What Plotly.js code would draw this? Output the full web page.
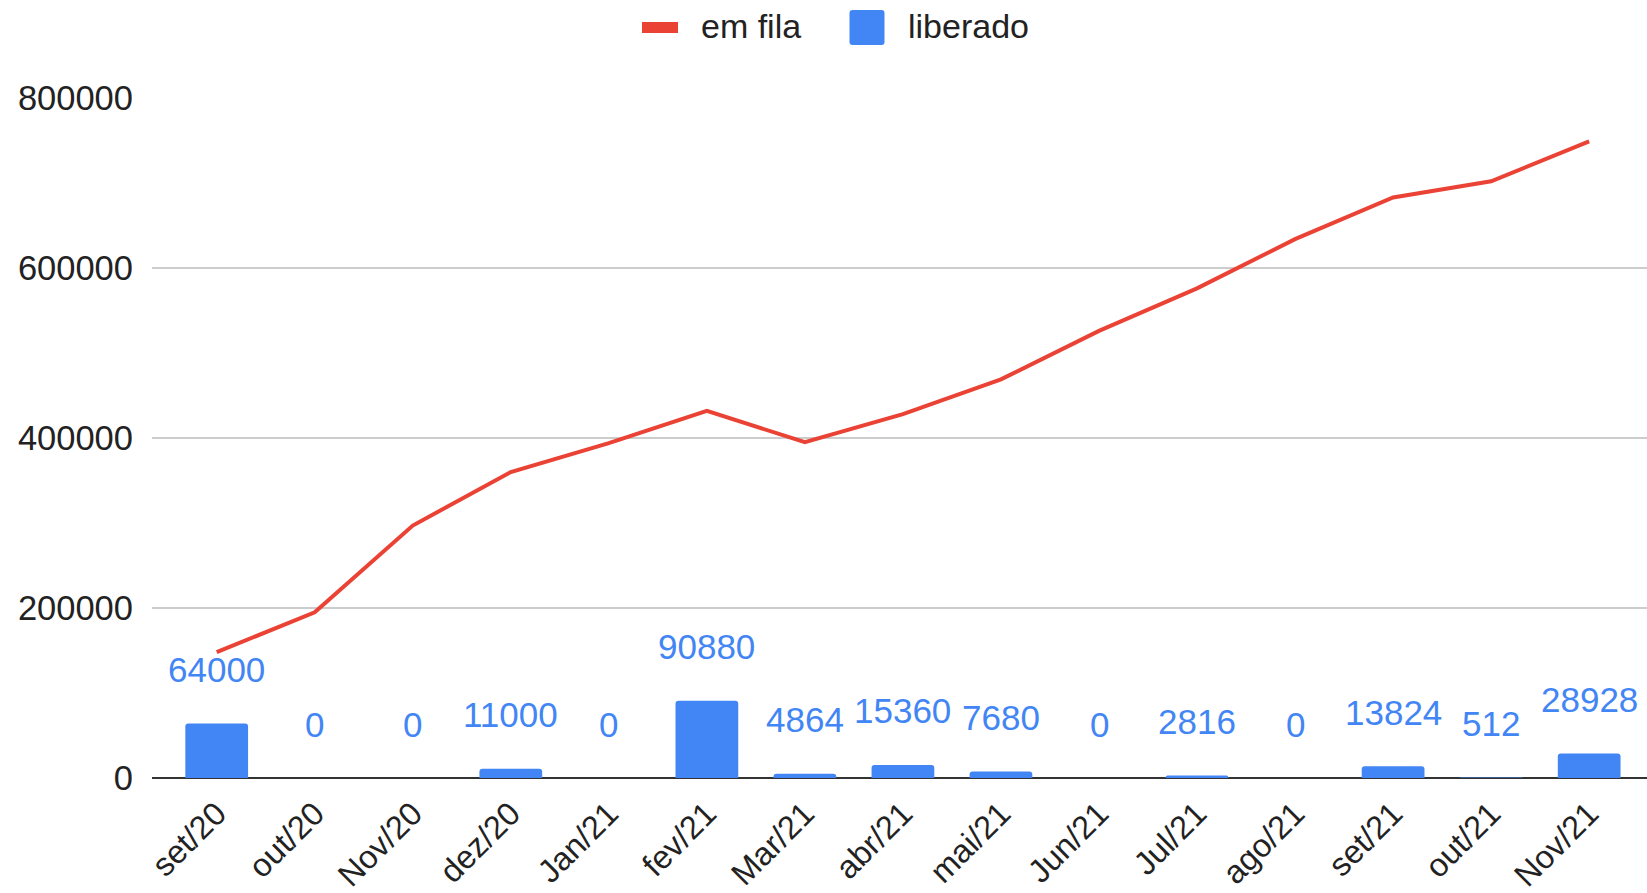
<!DOCTYPE html>
<html>
<head>
<meta charset="utf-8">
<script src="https://cdn.plot.ly/plotly-3.0.1.min.js"></script>
<style>html,body{margin:0;padding:0;background:#fff;}#chart{width:1647px;height:893px;}</style>
</head>
<body>
<div id="chart"></div>
<script>
const categories = ["set/20","out/20","Nov/20","dez/20","Jan/21","fev/21","Mar/21","abr/21","mai/21","Jun/21","Jul/21","ago/21","set/21","out/21","Nov/21"];
const emFila = [148000,195000,297000,360000,394000,432000,395000,428000,469000,526000,576000,634000,683000,702000,749000];
const liberado = [64000,0,0,11000,0,90880,4864,15360,7680,0,2816,0,13824,512,28928];
const yTicks = [0,200000,400000,600000,800000];
const seriesNames = ["em fila", "liberado"];

const FONT = '"Liberation Sans", Arial, Helvetica, sans-serif';
const BLUE = '#4285F4';
const RED = '#EA4335';

const W = 1647, H = 893;
const M = {l: 152, r: 0, t: 98, b: 115};
const pw = W - M.l - M.r, ph = H - M.t - M.b;
const px = x => (x - M.l) / pw;          // page px -> paper x
const py = y => (H - M.b - y) / ph;      // page px -> paper y

const traces = [
  {
    type: 'scatter', mode: 'lines', name: seriesNames[0],
    x: categories, y: emFila,
    line: {color: RED, width: 4}
  },
  {
    type: 'bar', name: seriesNames[1],
    x: categories, y: liberado,
    marker: {color: BLUE, cornerradius: 3}
  }
];

const annotations = categories.map((c, i) => ({
  x: c, y: liberado[i], xref: 'x', yref: 'y',
  text: String(liberado[i]), showarrow: false,
  yanchor: 'middle', yshift: 54,
  font: {family: FONT, size: 35, color: BLUE}
}));

// custom legend (text)
annotations.push(
  {xref: 'paper', yref: 'paper', x: px(699), y: py(26), xanchor: 'left', yanchor: 'middle',
   text: seriesNames[0], showarrow: false, font: {family: FONT, size: 34, color: '#222'}},
  {xref: 'paper', yref: 'paper', x: px(906), y: py(26), xanchor: 'left', yanchor: 'middle',
   text: seriesNames[1], showarrow: false, font: {family: FONT, size: 34, color: '#222'}}
);

const r = 3;
const sq = 17.5;
const roundRect = `M ${-sq+r} ${-sq} L ${sq-r} ${-sq} Q ${sq} ${-sq} ${sq} ${-sq+r} L ${sq} ${sq-r} Q ${sq} ${sq} ${sq-r} ${sq} L ${-sq+r} ${sq} Q ${-sq} ${sq} ${-sq} ${sq-r} L ${-sq} ${-sq+r} Q ${-sq} ${-sq} ${-sq+r} ${-sq} Z`;

const shapes = [
  {type: 'rect', xref: 'paper', yref: 'paper', xsizemode: 'pixel', ysizemode: 'pixel',
   xanchor: px(660), yanchor: py(27.5), x0: -18, x1: 18, y0: -5.5, y1: 5.5,
   fillcolor: RED, line: {width: 0}},
  {type: 'path', xref: 'paper', yref: 'paper', xsizemode: 'pixel', ysizemode: 'pixel',
   xanchor: px(867), yanchor: py(27.5), path: roundRect,
   fillcolor: BLUE, line: {width: 0}}
];

const layout = {
  width: W, height: H,
  margin: M,
  paper_bgcolor: '#fff', plot_bgcolor: '#fff',
  font: {family: FONT, size: 34, color: '#222'},
  bargap: 0.36,
  showlegend: false,
  xaxis: {
    type: 'category', range: [-0.66, 14.59],
    tickangle: -45, showgrid: false, zeroline: false,
    showline: false, ticks: '',
    ticklabelstandoff: 9,
    tickfont: {family: FONT, size: 32.5, color: '#222'}
  },
  yaxis: {
    range: [0, 800000], tickvals: yTicks,
    ticktext: yTicks.map(v => String(v)),
    showgrid: true, gridcolor: '#cccccc', gridwidth: 2,
    zeroline: true, zerolinecolor: '#333333', zerolinewidth: 2,
    showline: false, ticks: '',
    ticklabelstandoff: 18,
    tickfont: {family: FONT, size: 34.5, color: '#222'}
  },
  annotations: annotations,
  shapes: shapes
};

Plotly.newPlot('chart', traces, layout, {displayModeBar: false, staticPlot: true});
</script>
</body>
</html>
